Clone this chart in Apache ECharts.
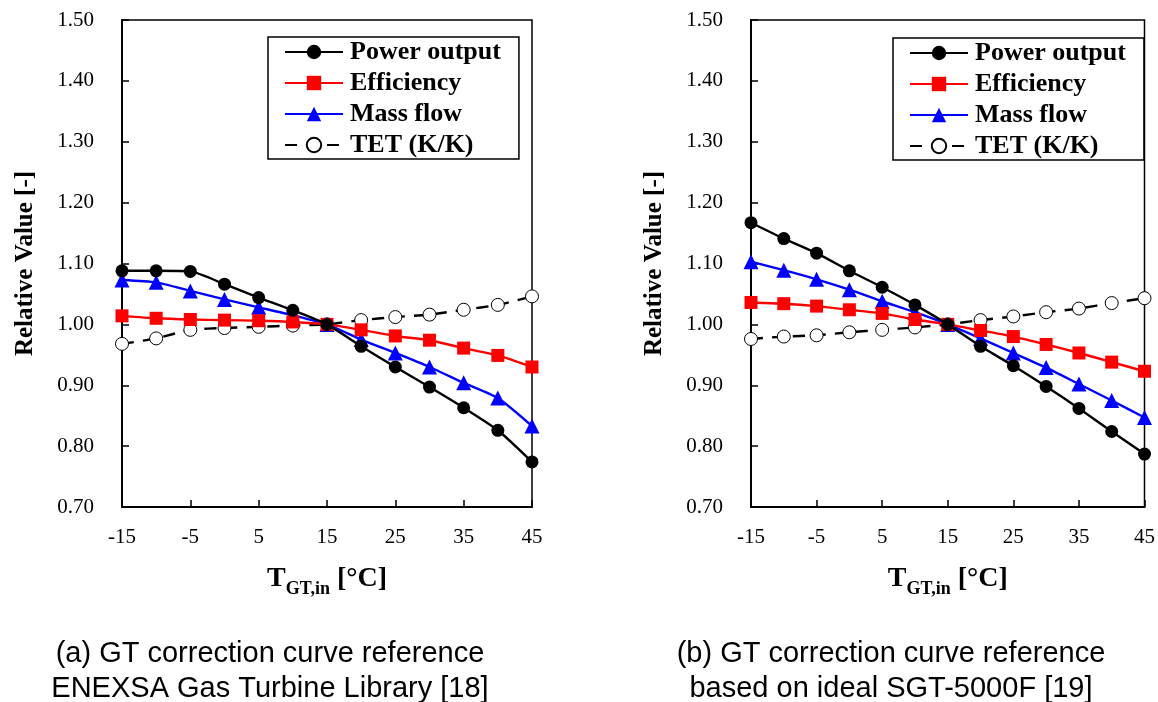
<!DOCTYPE html>
<html>
<head>
<meta charset="utf-8">
<script src="https://cdn.jsdelivr.net/npm/echarts@6/dist/echarts.min.js"></script>
<style>html,body{margin:0;padding:0;background:#fff;}#c{width:1158px;height:702px;}</style>
</head>
<body>
<div id="c"></div>
<script>
const temps = ['-15','-10','-5','0','5','10','15','20','25','30','35','40','45'];
const yTicks = [0.7, 1.5, 0.1];

// (a) ENEXSA Gas Turbine Library
const aPower = [1.088,1.088,1.087,1.066,1.044,1.023,1.000,0.964,0.930,0.897,0.863,0.826,0.774];
const aEff   = [1.014,1.010,1.008,1.007,1.006,1.004,1.000,0.991,0.981,0.974,0.961,0.949,0.930];
const aMass  = [1.073,1.069,1.055,1.041,1.028,1.015,1.000,0.975,0.953,0.930,0.904,0.879,0.833];
const aTET   = [0.968,0.977,0.991,0.994,0.996,0.998,1.000,1.007,1.012,1.016,1.024,1.032,1.046];

// (b) ideal SGT-5000F
const bPower = [1.167,1.141,1.117,1.088,1.061,1.032,1.000,0.964,0.932,0.898,0.862,0.824,0.787];
const bEff   = [1.036,1.034,1.030,1.024,1.018,1.008,1.000,0.990,0.980,0.967,0.953,0.938,0.923];
const bMass  = [1.103,1.089,1.074,1.057,1.038,1.020,1.000,0.977,0.953,0.929,0.902,0.875,0.847];
const bTET   = [0.976,0.980,0.982,0.987,0.991,0.995,1.000,1.007,1.013,1.020,1.026,1.035,1.043];

const names = ['Power output','Efficiency','Mass flow','TET (K/K)'];
const captionA = ['(a) GT correction curve reference','ENEXSA Gas Turbine Library [18]'];
const captionB = ['(b) GT correction curve reference','based on ideal SGT-5000F [19]'];

const serif = 'Liberation Serif';
const sans = 'Liberation Sans';

const styles = [
  {symbol:'circle', symbolSize:13, line:{color:'#000', width:2.4, type:'solid'}, item:{color:'#000'}},
  {symbol:'rect', symbolSize:13, line:{color:'#ff0000', width:2.4, type:'solid'}, item:{color:'#ff0000'}},
  {symbol:'triangle', symbolSize:15, line:{color:'#0000ff', width:2.4, type:'solid'}, item:{color:'#0000ff'}},
  {symbol:'circle', symbolSize:13, line:{color:'#000', width:2.4, type:[12,9]}, item:{color:'#fff', borderColor:'#000', borderWidth:1}}
];

function mkSeries(idx, data) {
  return data.map((d, i) => ({
    name: names[i], type: 'line', xAxisIndex: idx, yAxisIndex: idx,
    data: d, smooth: 0.2, symbol: styles[i].symbol, symbolSize: styles[i].symbolSize,
    lineStyle: styles[i].line, itemStyle: styles[i].item, z: 10 - i
  }));
}

function mkX(idx) {
  return {
    type: 'category', gridIndex: idx, data: temps, boundaryGap: false,
    axisLine: {lineStyle: {color: '#000', width: 2}},
    axisTick: {inside: true, interval: 1, length: 7, lineStyle: {color: '#000', width: 1.5}},
    axisLabel: {interval: 1, color: '#000', fontFamily: serif, fontSize: 21, margin: 20},
    splitLine: {show: false},
    name: '{t|T}{s|GT,in}{t| [°C]}', nameLocation: 'middle', nameGap: 58,
    nameTextStyle: {rich: {
      t: {fontFamily: serif, fontWeight: 'bold', fontSize: 28, color: '#000', verticalAlign: 'bottom'},
      s: {fontFamily: serif, fontWeight: 'bold', fontSize: 18, color: '#000', verticalAlign: 'bottom', padding:[0,0,-5,0]}
    }}
  };
}
function mkY(idx) {
  return {
    type: 'value', gridIndex: idx, min: yTicks[0], max: yTicks[1], interval: yTicks[2],
    axisLine: {show: true, lineStyle: {color: '#000', width: 2}},
    axisTick: {show: true, inside: true, length: 7, lineStyle: {color: '#000', width: 1.5}},
    axisLabel: {color: '#000', fontFamily: serif, fontSize: 21, margin: 28, formatter: v => v.toFixed(2)},
    splitLine: {show: false},
    name: 'Relative Value [-]', nameLocation: 'middle', nameGap: 84,
    nameTextStyle: {fontFamily: serif, fontWeight: 'bold', fontSize: 25, color: '#000'}
  };
}
function mkLegend(left, top) {
  return {
    orient: 'vertical', left: left, top: top, data: names,
    itemWidth: 58, itemHeight: 18, itemGap: 5,
    borderColor: '#000', borderWidth: 1.5, padding: [2, 18, 1, 16],
    backgroundColor: '#fff',
    textStyle: {fontFamily: serif, fontWeight: 'bold', fontSize: 26, color: '#000', padding:[0,0,0,2]},
    selectedMode: false
  };
}
function caption(x, lines) {
  return lines.map((t, i) => ({
    type: 'text', x: x, y: 654 + i * 35,
    style: {text: t, textAlign: 'center', textVerticalAlign: 'middle', fontFamily: sans, fontSize: 29, fill: '#000'}
  }));
}

const chart = echarts.init(document.getElementById('c'), null, {renderer: 'canvas'});
chart.setOption({
  backgroundColor: '#fff',
  animation: false,
  grid: [
    {left: 122, top: 20, width: 410, height: 487, show: true, borderColor: '#000', borderWidth: 1.5, backgroundColor: 'transparent'},
    {left: 751, top: 20, width: 397, height: 487, show: true, borderColor: '#000', borderWidth: 1.5, backgroundColor: 'transparent'}
  ],
  xAxis: [mkX(0), mkX(1)],
  yAxis: [mkY(0), mkY(1)],
  legend: [mkLegend(268, 37), mkLegend(893, 38)],
  series: [...mkSeries(0, [aPower, aEff, aMass, aTET]), ...mkSeries(1, [bPower, bEff, bMass, bTET])],
  graphic: [...caption(270, captionA), ...caption(891, captionB)]
});
</script>
</body>
</html>
